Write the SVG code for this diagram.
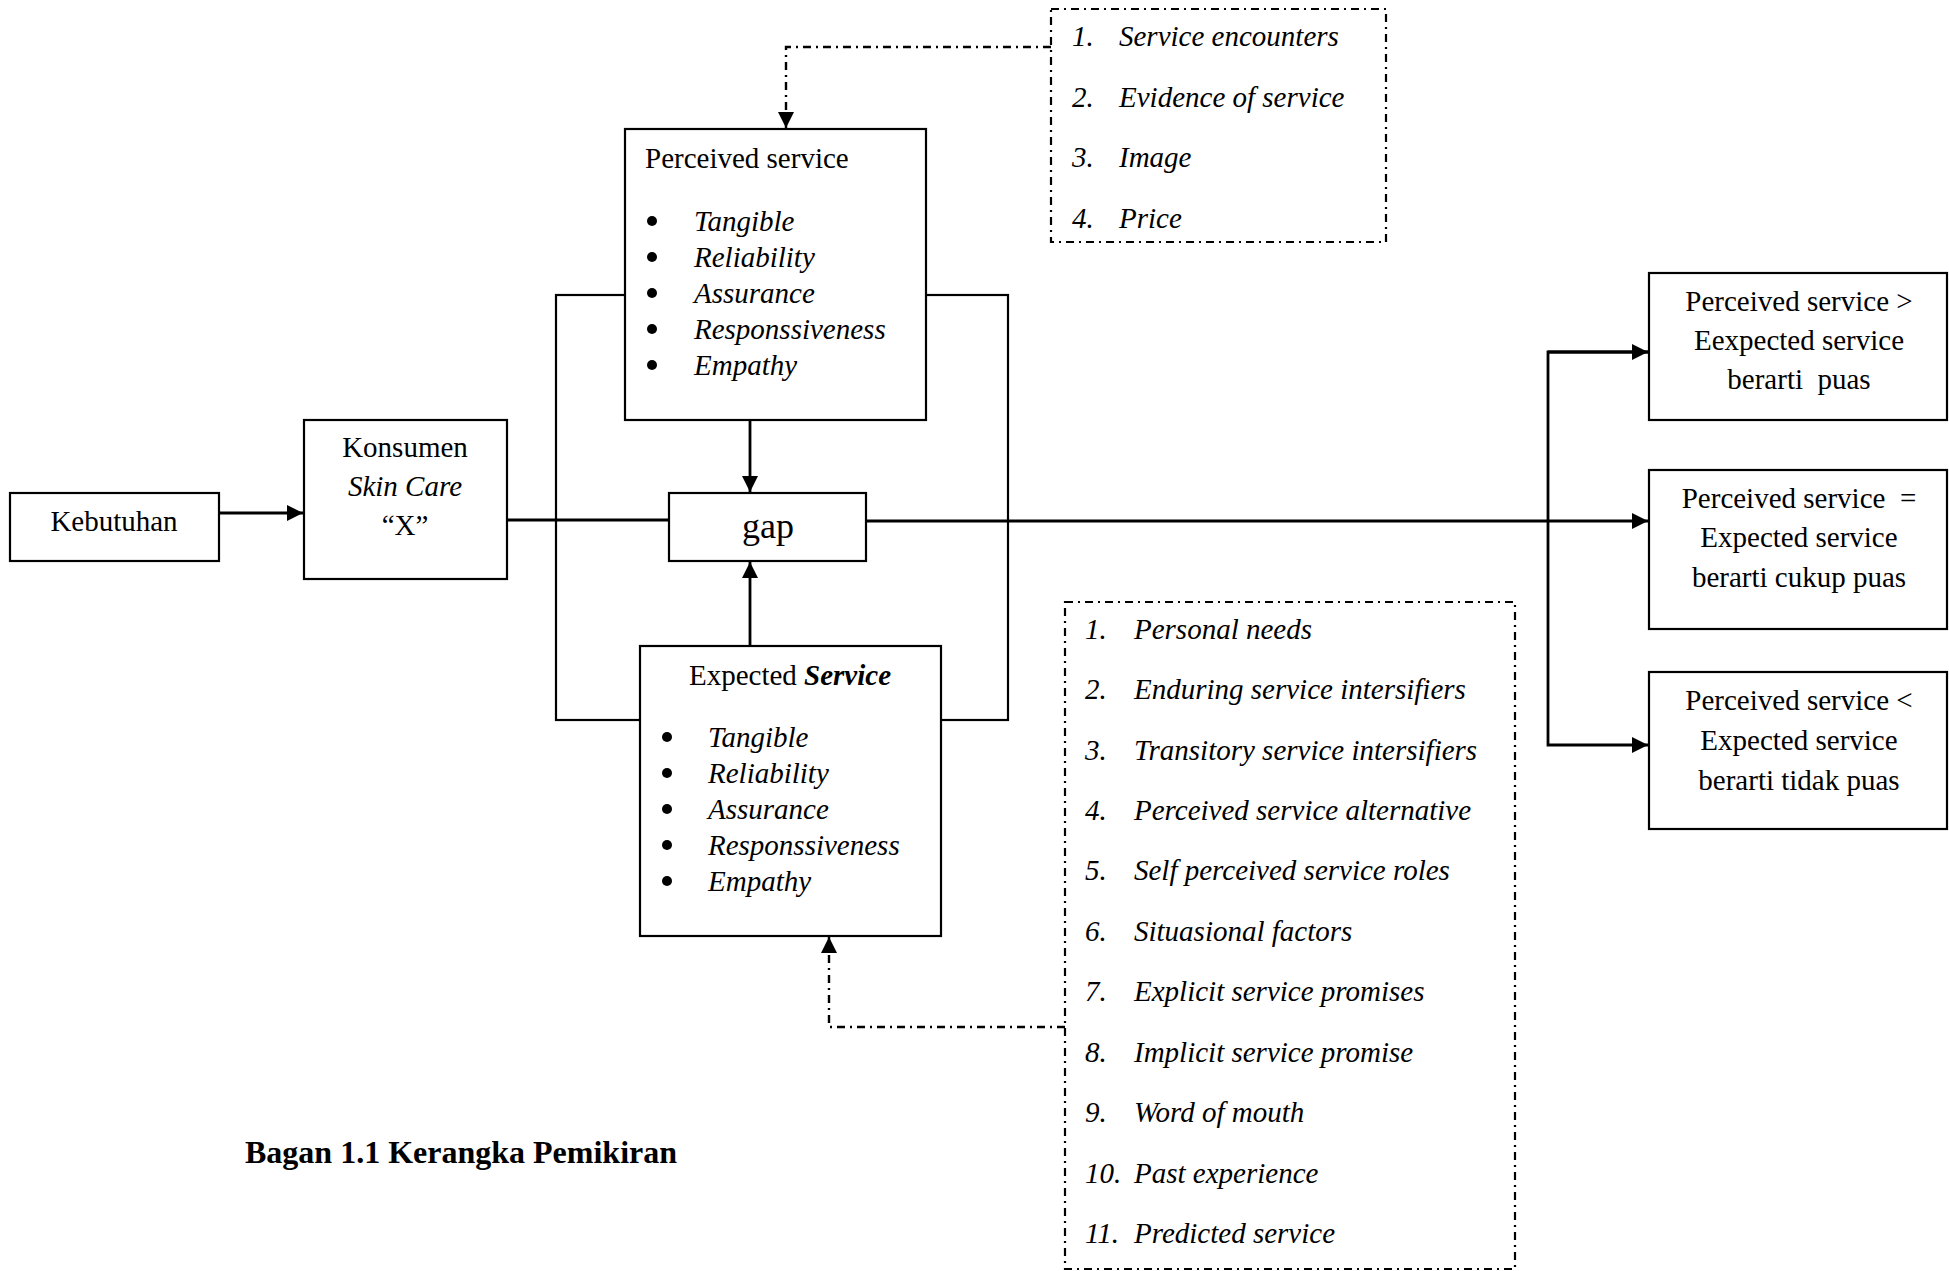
<svg xmlns="http://www.w3.org/2000/svg" width="1949" height="1271" viewBox="0 0 1949 1271">
<style>
.box{fill:#fff;stroke:#000;stroke-width:2.2}
.dbox{fill:none;stroke:#000;stroke-width:2.2;stroke-dasharray:8 5 2 5}
.ln{fill:none;stroke:#000;stroke-width:2.8}
.frame{fill:none;stroke:#000;stroke-width:2.2}
.dln{fill:none;stroke:#000;stroke-width:2.4;stroke-dasharray:8 5 2 5}
text{font-family:"Liberation Serif","Times New Roman",serif;font-size:29px;fill:#000}
.it{font-style:italic}
.c{text-anchor:middle}
.gap{font-size:36px}
.cap{font-weight:bold;font-size:32px}
</style>
<defs>
<marker id="ah" markerUnits="userSpaceOnUse" markerWidth="18" markerHeight="18" refX="16" refY="8" orient="auto">
<path d="M0,0 L16,8 L0,16 Z" fill="#000"/>
</marker>
</defs>

<g id="connectors">
<rect class="frame" x="556" y="295" width="452" height="425"/>
<line class="ln" x1="219" y1="513" x2="303" y2="513" marker-end="url(#ah)"/>
<line class="ln" x1="507" y1="520" x2="669" y2="520"/>
<line class="ln" x1="750" y1="420" x2="750" y2="492" marker-end="url(#ah)"/>
<line class="ln" x1="750" y1="646" x2="750" y2="562" marker-end="url(#ah)"/>
<line class="ln" x1="866" y1="521" x2="1648" y2="521" marker-end="url(#ah)"/>
<polyline class="ln" points="1648,352 1548,352 1548,745 1648,745" marker-end="url(#ah)"/>
<line class="ln" x1="1548" y1="352" x2="1648" y2="352" marker-end="url(#ah)"/>
<polyline class="dln" points="1051,47 786,47 786,128" marker-end="url(#ah)"/>
<polyline class="dln" points="1065,1027 829,1027 829,937" marker-end="url(#ah)"/>
</g>

<g id="kebutuhan">
<rect class="box" x="10" y="493" width="209" height="68"/>
<text class="c" x="114" y="531">Kebutuhan</text>
</g>

<g id="konsumen">
<rect class="box" x="304" y="420" width="203" height="159"/>
<text class="c" x="405" y="457">Konsumen</text>
<text class="c it" x="405" y="496">Skin Care</text>
<text class="c" x="405" y="535">“X”</text>
</g>

<g id="perceived">
<rect class="box" x="625" y="129" width="301" height="291"/>
<text x="645" y="168">Perceived service</text>
<circle cx="652" cy="221" r="5"/>
<circle cx="652" cy="257" r="5"/>
<circle cx="652" cy="293" r="5"/>
<circle cx="652" cy="329" r="5"/>
<circle cx="652" cy="365" r="5"/>
<text class="it" x="694" y="231">Tangible</text>
<text class="it" x="694" y="267">Reliability</text>
<text class="it" x="694" y="303">Assurance</text>
<text class="it" x="694" y="339">Responssiveness</text>
<text class="it" x="694" y="375">Empathy</text>
</g>

<g id="gap">
<rect class="box" x="669" y="493" width="197" height="68"/>
<text class="c gap" x="768" y="538">gap</text>
</g>

<g id="expected">
<rect class="box" x="640" y="646" width="301" height="290"/>
<text class="c" x="790" y="685">Expected <tspan font-weight="bold" font-style="italic">Service</tspan></text>
<circle cx="667" cy="737" r="5"/>
<circle cx="667" cy="773" r="5"/>
<circle cx="667" cy="809" r="5"/>
<circle cx="667" cy="845" r="5"/>
<circle cx="667" cy="881" r="5"/>
<text class="it" x="708" y="747">Tangible</text>
<text class="it" x="708" y="783">Reliability</text>
<text class="it" x="708" y="819">Assurance</text>
<text class="it" x="708" y="855">Responssiveness</text>
<text class="it" x="708" y="891">Empathy</text>
</g>

<g id="top-factors">
<rect class="dbox" x="1051" y="9" width="335" height="233"/>
<text class="it" x="1072" y="46">1.</text><text class="it" x="1119" y="46">Service encounters</text>
<text class="it" x="1072" y="107">2.</text><text class="it" x="1119" y="107">Evidence of service</text>
<text class="it" x="1072" y="167">3.</text><text class="it" x="1119" y="167">Image</text>
<text class="it" x="1072" y="228">4.</text><text class="it" x="1119" y="228">Price</text>
</g>

<g id="bottom-factors">
<rect class="dbox" x="1065" y="602" width="450" height="667"/>
<text class="it" x="1085" y="639">1.</text><text class="it" x="1134" y="639">Personal needs</text>
<text class="it" x="1085" y="699">2.</text><text class="it" x="1134" y="699">Enduring service intersifiers</text>
<text class="it" x="1085" y="760">3.</text><text class="it" x="1134" y="760">Transitory service intersifiers</text>
<text class="it" x="1085" y="820">4.</text><text class="it" x="1134" y="820">Perceived service alternative</text>
<text class="it" x="1085" y="880">5.</text><text class="it" x="1134" y="880">Self perceived service roles</text>
<text class="it" x="1085" y="941">6.</text><text class="it" x="1134" y="941">Situasional factors</text>
<text class="it" x="1085" y="1001">7.</text><text class="it" x="1134" y="1001">Explicit service promises</text>
<text class="it" x="1085" y="1062">8.</text><text class="it" x="1134" y="1062">Implicit service promise</text>
<text class="it" x="1085" y="1122">9.</text><text class="it" x="1134" y="1122">Word of mouth</text>
<text class="it" x="1085" y="1183">10.</text><text class="it" x="1134" y="1183">Past experience</text>
<text class="it" x="1085" y="1243">11.</text><text class="it" x="1134" y="1243">Predicted service</text>
</g>

<g id="result-puas">
<rect class="box" x="1649" y="273" width="298" height="147"/>
<text class="c" x="1799" y="311">Perceived service &gt;</text>
<text class="c" x="1799" y="350">Eexpected service</text>
<text class="c" x="1799" y="389" xml:space="preserve">berarti  puas</text>
</g>

<g id="result-cukup">
<rect class="box" x="1649" y="470" width="298" height="159"/>
<text class="c" x="1799" y="508" xml:space="preserve">Perceived service  =</text>
<text class="c" x="1799" y="547">Expected service</text>
<text class="c" x="1799" y="587">berarti cukup puas</text>
</g>

<g id="result-tidak">
<rect class="box" x="1649" y="672" width="298" height="157"/>
<text class="c" x="1799" y="710">Perceived service &lt;</text>
<text class="c" x="1799" y="750">Expected service</text>
<text class="c" x="1799" y="790">berarti tidak puas</text>
</g>

<g id="caption">
<text class="cap" x="245" y="1163">Bagan 1.1 Kerangka Pemikiran</text>
</g>
</svg>
